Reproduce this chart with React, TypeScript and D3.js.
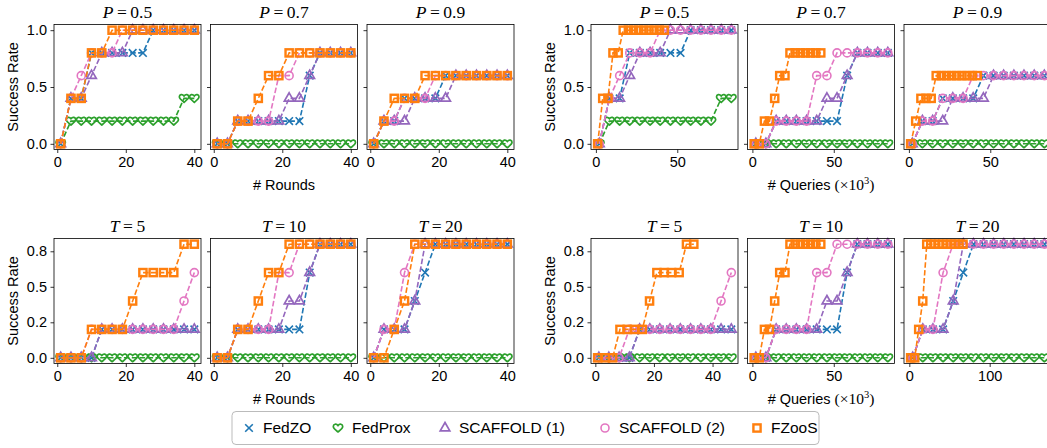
import React, { useEffect, useRef } from 'react';
import * as d3 from 'd3';

// x positions: communication rounds, and cumulative queries (x10^3)
const roundsX = [1, 4, 7, 10, 13, 16, 19, 22, 25, 28, 31, 34, 37, 40];
const queriesBaseT5 = [1.2, 4.6, 8.1, 11.6, 15.1, 18.6, 22.0, 25.5, 29.0, 32.5, 36.0, 39.4, 42.9, 46.4];
const queriesFzoosT5 = [0.8, 3.4, 5.9, 8.4, 10.9, 13.4, 16.0, 18.5, 21.0, 23.5, 26.0, 28.6, 31.1, 33.6];
const queriesBaseT10 = [2.1, 8.3, 14.6, 20.8, 27.0, 33.3, 39.5, 45.8, 52.0, 58.2, 64.5, 70.7, 77.0, 83.2];
const queriesFzoosT10 = [1.1, 4.2, 7.4, 10.5, 13.7, 16.8, 20.0, 23.1, 26.3, 29.4, 32.6, 35.7, 38.9, 42.0];
const queriesBaseT20 = [4.2, 16.8, 29.4, 42.0, 54.6, 67.2, 79.8, 92.4, 105.0, 117.6, 130.2, 142.8, 155.4, 168.0];
const queriesFzoosT20 = [1.7, 6.7, 11.7, 16.7, 21.7, 26.7, 31.7, 36.7, 41.8, 46.8, 51.8, 56.8, 61.8, 66.8];

const methods = ['FedZO', 'FedProx', 'SCAFFOLD (1)', 'SCAFFOLD (2)', 'FZooS'];
const colors = ['#1f77b4', '#2ca02c', '#9467bd', '#e377c2', '#ff7f0e'];
const markers = ['x', 'heart', 'triangle', 'circle', 'square'];

const zeros = [0, 0, 0, 0, 0, 0, 0, 0, 0, 0, 0, 0, 0, 0];

// success rates, order: FedZO, FedProx, SCAFFOLD (1), SCAFFOLD (2), FZooS
const p05 = [
  [0, 0.4, 0.4, 0.8, 0.8, 0.8, 0.8, 0.8, 0.8, 1, 1, 1, 1, 1],
  [0, 0.2, 0.2, 0.2, 0.2, 0.2, 0.2, 0.2, 0.2, 0.2, 0.2, 0.2, 0.4, 0.4],
  [0, 0.4, 0.4, 0.6, 0.8, 0.8, 0.8, 1, 1, 1, 1, 1, 1, 1],
  [0, 0.4, 0.6, 0.8, 0.8, 0.8, 1, 1, 1, 1, 1, 1, 1, 1],
  [0, 0.4, 0.4, 0.8, 0.8, 1, 1, 1, 1, 1, 1, 1, 1, 1],
];
const p07 = [
  [0, 0, 0.2, 0.2, 0.2, 0.2, 0.2, 0.2, 0.2, 0.6, 0.8, 0.8, 0.8, 0.8],
  zeros,
  [0, 0, 0.2, 0.2, 0.2, 0.2, 0.2, 0.4, 0.4, 0.6, 0.8, 0.8, 0.8, 0.8],
  [0, 0, 0.2, 0.2, 0.2, 0.2, 0.6, 0.6, 0.8, 0.8, 0.8, 0.8, 0.8, 0.8],
  [0, 0, 0.2, 0.2, 0.4, 0.6, 0.6, 0.8, 0.8, 0.8, 0.8, 0.8, 0.8, 0.8],
];
const p09 = [
  [0, 0.2, 0.2, 0.4, 0.4, 0.4, 0.4, 0.6, 0.6, 0.6, 0.6, 0.6, 0.6, 0.6],
  zeros,
  [0, 0.2, 0.2, 0.2, 0.4, 0.4, 0.4, 0.4, 0.6, 0.6, 0.6, 0.6, 0.6, 0.6],
  [0, 0.2, 0.2, 0.4, 0.4, 0.4, 0.6, 0.6, 0.6, 0.6, 0.6, 0.6, 0.6, 0.6],
  [0, 0.2, 0.4, 0.4, 0.4, 0.6, 0.6, 0.6, 0.6, 0.6, 0.6, 0.6, 0.6, 0.6],
];
const t5 = [
  [0, 0, 0, 0, 0.2, 0.2, 0.2, 0.2, 0.2, 0.2, 0.2, 0.2, 0.2, 0.2],
  zeros,
  [0, 0, 0, 0, 0.2, 0.2, 0.2, 0.2, 0.2, 0.2, 0.2, 0.2, 0.2, 0.2],
  [0, 0, 0, 0.2, 0.2, 0.2, 0.2, 0.2, 0.2, 0.2, 0.2, 0.2, 0.4, 0.6],
  [0, 0, 0, 0.2, 0.2, 0.2, 0.2, 0.4, 0.6, 0.6, 0.6, 0.6, 0.8, 0.8],
];
const t10 = [
  [0, 0, 0.2, 0.2, 0.2, 0.2, 0.2, 0.2, 0.2, 0.6, 0.8, 0.8, 0.8, 0.8],
  zeros,
  [0, 0, 0.2, 0.2, 0.2, 0.2, 0.2, 0.4, 0.4, 0.6, 0.8, 0.8, 0.8, 0.8],
  [0, 0, 0.2, 0.2, 0.2, 0.2, 0.6, 0.6, 0.8, 0.8, 0.8, 0.8, 0.8, 0.8],
  [0, 0, 0.2, 0.2, 0.4, 0.6, 0.6, 0.8, 0.8, 0.8, 0.8, 0.8, 0.8, 0.8],
];
const t20 = [
  [0, 0.2, 0.2, 0.2, 0.4, 0.6, 0.8, 0.8, 0.8, 0.8, 0.8, 0.8, 0.8, 0.8],
  zeros,
  [0, 0.2, 0.2, 0.2, 0.4, 0.8, 0.8, 0.8, 0.8, 0.8, 0.8, 0.8, 0.8, 0.8],
  [0, 0.2, 0.2, 0.6, 0.8, 0.8, 0.8, 0.8, 0.8, 0.8, 0.8, 0.8, 0.8, 0.8],
  [0, 0, 0.2, 0.4, 0.8, 0.8, 0.8, 0.8, 0.8, 0.8, 0.8, 0.8, 0.8, 0.8],
];

const yTicksTop = [0, 0.5, 1.0];
const yTickLabelsTop = ['0.0', '0.5', '1.0'];
const yTicksBottom = [0, 0.25, 0.5, 0.75];
const yTickLabelsBottom = ['0.0', '0.2', '0.5', '0.8'];

const roundTicks = [0, 20, 40];
const queryTicksT5 = [0, 20, 40];
const queryTicksT10 = [0, 50];
const queryTicksT20 = [0, 100];

const fourOf = (a: number[], b: number[]) => [a, a, a, a, b];
const roundsXs = fourOf(roundsX, roundsX);

const panels = [
  { row: 0, col: 0, letter: 'P', val: '0.5', ys: p05, xs: roundsXs, ticks: roundTicks },
  { row: 0, col: 1, letter: 'P', val: '0.7', ys: p07, xs: roundsXs, ticks: roundTicks },
  { row: 0, col: 2, letter: 'P', val: '0.9', ys: p09, xs: roundsXs, ticks: roundTicks },
  { row: 0, col: 3, letter: 'P', val: '0.5', ys: p05, xs: fourOf(queriesBaseT10, queriesFzoosT10), ticks: queryTicksT10 },
  { row: 0, col: 4, letter: 'P', val: '0.7', ys: p07, xs: fourOf(queriesBaseT10, queriesFzoosT10), ticks: queryTicksT10 },
  { row: 0, col: 5, letter: 'P', val: '0.9', ys: p09, xs: fourOf(queriesBaseT10, queriesFzoosT10), ticks: queryTicksT10 },
  { row: 1, col: 0, letter: 'T', val: '5', ys: t5, xs: roundsXs, ticks: roundTicks },
  { row: 1, col: 1, letter: 'T', val: '10', ys: t10, xs: roundsXs, ticks: roundTicks },
  { row: 1, col: 2, letter: 'T', val: '20', ys: t20, xs: roundsXs, ticks: roundTicks },
  { row: 1, col: 3, letter: 'T', val: '5', ys: t5, xs: fourOf(queriesBaseT5, queriesFzoosT5), ticks: queryTicksT5 },
  { row: 1, col: 4, letter: 'T', val: '10', ys: t10, xs: fourOf(queriesBaseT10, queriesFzoosT10), ticks: queryTicksT10 },
  { row: 1, col: 5, letter: 'T', val: '20', ys: t20, xs: fourOf(queriesBaseT20, queriesFzoosT20), ticks: queryTicksT20 },
];

const W = 1047, H = 448;
const panelW = 147, panelH = 125;
const colLeft = [54, 210.5, 367, 591, 747.5, 904];
const rowTop = [24.5, 238.5];
const SANS = '"Liberation Sans", Arial, sans-serif';
const SERIF = '"Liberation Serif", "DejaVu Serif", serif';

const heartPath = 'M0,3.9C-1.3,2.8 -4.7,0.7 -4.7,-1.5C-4.7,-3.9 -1.7,-4.7 0,-2.4C1.7,-4.7 4.7,-3.9 4.7,-1.5C4.7,0.7 1.3,2.8 0,3.9Z';

function addMarker(g: any, type: string, color: string) {
  if (type === 'x') {
    g.append('path').attr('d', 'M-3.8,-3.8L3.8,3.8M-3.8,3.8L3.8,-3.8')
      .attr('stroke', color).attr('stroke-width', 1.6).attr('fill', 'none');
  } else if (type === 'heart') {
    g.append('path').attr('d', heartPath)
      .attr('stroke', color).attr('stroke-width', 1.7).attr('fill', 'none');
  } else if (type === 'triangle') {
    g.append('path').attr('d', d3.symbol(d3.symbolTriangle, 40)())
      .attr('stroke', color).attr('stroke-width', 1.7).attr('fill', 'none');
  } else if (type === 'circle') {
    g.append('circle').attr('r', 4)
      .attr('stroke', color).attr('stroke-width', 1.6).attr('fill', 'none');
  } else {
    g.append('rect').attr('x', -3.6).attr('y', -3.6).attr('width', 7.2).attr('height', 7.2)
      .attr('stroke', color).attr('stroke-width', 2.4).attr('fill', 'none');
  }
}

export default function App() {
  const ref = useRef<SVGSVGElement>(null);

  useEffect(() => {
    const svg = d3.select(ref.current);
    svg.selectAll('*').remove();

    // shared y range per row (5% margins like matplotlib)
    const rowMax = [0, 1].map(r => d3.max(panels.filter(p => p.row === r).flatMap(p => p.ys.flat())) as number);

    panels.forEach(p => {
      const left = colLeft[p.col], top = rowTop[p.row];
      const allX = p.xs.flat();
      const [xmin, xmax] = d3.extent(allX) as [number, number];
      const padX = (xmax - xmin) * 0.05;
      const x = d3.scaleLinear().domain([xmin - padX, xmax + padX]).range([left, left + panelW]);
      const ymax = rowMax[p.row];
      const y = d3.scaleLinear().domain([-ymax * 0.05, ymax * 1.05]).range([top + panelH, top]);

      const g = svg.append('g');

      // axes
      const xAxis = d3.axisBottom(x).tickValues(p.ticks).tickSize(3.5).tickPadding(3.5).tickFormat(d3.format('d'));
      const yTicks = p.row === 0 ? yTicksTop : yTicksBottom;
      const yLabels = p.row === 0 ? yTickLabelsTop : yTickLabelsBottom;
      const showY = p.col === 0 || p.col === 3;
      const yAxis = d3.axisLeft(y).tickValues(yTicks).tickSize(3.5).tickPadding(3.5)
        .tickFormat((_d, i) => (showY ? yLabels[i] : ''));

      const gx = g.append('g').attr('transform', `translate(0,${top + panelH})`).call(xAxis as any);
      const gy = g.append('g').attr('transform', `translate(${left},0)`).call(yAxis as any);
      [gx, gy].forEach(a => {
        a.select('.domain').remove();
        a.selectAll('line').attr('stroke', '#000').attr('stroke-width', 0.8);
        a.selectAll('text').attr('fill', '#000').style('font-family', SANS).style('font-size', '14.5px');
      });

      // series
      p.ys.forEach((ys, m) => {
        const pts = ys.map((v, i) => [x(p.xs[m][i]), y(v)] as [number, number]);
        const sg = g.append('g');
        sg.append('path')
          .attr('d', d3.line()(pts))
          .attr('fill', 'none')
          .attr('stroke', colors[m])
          .attr('stroke-width', 1.6)
          .attr('stroke-dasharray', '5.5,2.4');
        pts.forEach(([px, py]) => {
          const mg = sg.append('g').attr('transform', `translate(${px},${py})`);
          addMarker(mg, markers[m], colors[m]);
        });
      });

      // frame
      g.append('rect')
        .attr('x', left).attr('y', top).attr('width', panelW).attr('height', panelH)
        .attr('fill', 'none').attr('stroke', '#000').attr('stroke-width', 0.8);

      // title
      const t = g.append('text')
        .attr('x', left + panelW / 2).attr('y', top - 7)
        .attr('text-anchor', 'middle')
        .style('font-family', SERIF).style('font-size', '17.5px');
      t.append('tspan').style('font-style', 'italic').text(p.letter);
      t.append('tspan').text('\u2009=\u2009' + p.val);
    });

    // y labels
    [0, 1].forEach(r => {
      [0, 3].forEach(c => {
        const cx = c === 0 ? 13 : 550;
        const cy = rowTop[r] + panelH / 2;
        svg.append('text')
          .attr('transform', `translate(${cx},${cy}) rotate(-90)`)
          .attr('text-anchor', 'middle')
          .attr('dy', '0.35em')
          .style('font-family', SANS).style('font-size', '14.5px')
          .text('Success Rate');
      });
      // x labels
      const ly = rowTop[r] + panelH + 40.5;
      svg.append('text')
        .attr('x', colLeft[1] + panelW / 2).attr('y', ly)
        .attr('text-anchor', 'middle')
        .style('font-family', SANS).style('font-size', '14.5px')
        .text('# Rounds');
      const q = svg.append('text')
        .attr('x', colLeft[4] + panelW / 2).attr('y', ly)
        .attr('text-anchor', 'middle')
        .style('font-family', SANS).style('font-size', '14.5px');
      q.append('tspan').text('# Queries ');
      q.append('tspan').style('font-family', SERIF).style('font-size', '15.5px').text('(\u00d710');
      q.append('tspan').style('font-family', SERIF).style('font-size', '10.5px').attr('dy', '-6').text('3');
      q.append('tspan').style('font-family', SERIF).style('font-size', '15.5px').attr('dy', '6').text(')');
    });

    // legend
    const lg = svg.append('g');
    lg.append('rect')
      .attr('x', 232).attr('y', 411.5).attr('width', 587).attr('height', 33)
      .attr('rx', 4).attr('fill', '#fff').attr('stroke', '#bbb').attr('stroke-width', 1);
    const legendX = [249, 338, 445, 605, 757];
    methods.forEach((name, m) => {
      const mg = lg.append('g').attr('transform', `translate(${legendX[m]},428)`);
      addMarker(mg, markers[m], colors[m]);
      lg.append('text')
        .attr('x', legendX[m] + 14).attr('y', 428).attr('dy', '0.35em')
        .style('font-family', SANS).style('font-size', '15.5px')
        .text(name);
    });
  }, []);

  return (
    <svg ref={ref} width={W} height={H}
      style={{ position: 'fixed', left: 0, top: 0, background: '#fff', overflow: 'hidden' }} />
  );
}
